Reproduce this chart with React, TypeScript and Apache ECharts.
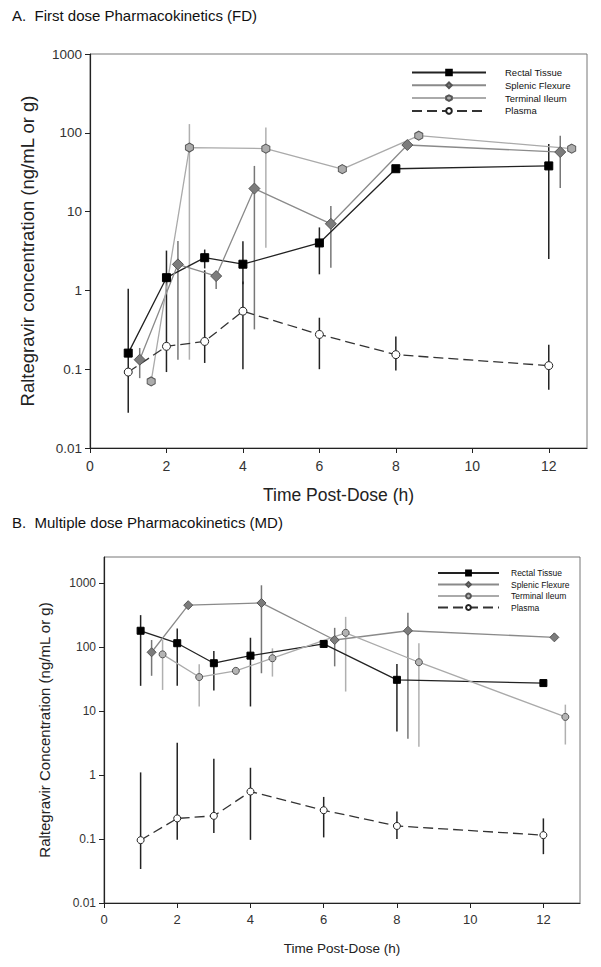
import React, { useEffect, useRef } from 'react';
import * as echarts from 'echarts';

// ---------- Panel A : First dose ----------
const A_RECTAL_X = [1, 2, 3, 4, 6, 8, 12];
const A_RECTAL_Y = [0.16, 1.45, 2.6, 2.15, 4.0, 35, 38];
const A_RECTAL_LO = [null, null, 1.9, 1.2, 1.6, null, 2.5];
const A_RECTAL_HI = [null, null, 3.3, 4.2, 6.3, null, 72];

const A_SPLENIC_X = [1.3, 2.3, 3.3, 4.3, 6.3, 8.3, 12.3];
const A_SPLENIC_Y = [0.132, 2.14, 1.52, 19.6, 7.0, 70, 57];
const A_SPLENIC_LO = [0.077, 0.132, 1.04, 0.32, 1.94, null, 20];
const A_SPLENIC_HI = [0.186, 4.24, 1.76, 38, 11.8, null, 92];

const A_ILEUM_X = [1.6, 2.6, 4.6, 6.6, 8.6, 12.6];
const A_ILEUM_Y = [0.07, 65, 63, 34.6, 92, 63];
const A_ILEUM_LO = [null, 0.132, 3.48, null, null, null];
const A_ILEUM_HI = [null, 129, 117, null, null, null];

const A_PLASMA_X = [1, 2, 3, 4, 6, 8, 12];
const A_PLASMA_Y = [0.092, 0.195, 0.225, 0.545, 0.276, 0.153, 0.111];
const A_PLASMA_LO = [0.028, 0.092, 0.12, 0.1, 0.1, 0.096, 0.055];
const A_PLASMA_HI = [1.05, 3.2, 1.8, 1.3, 0.45, 0.26, 0.205];

// ---------- Panel B : Multiple dose ----------
const B_RECTAL_X = [1, 2, 3, 4, 6, 8, 12];
const B_RECTAL_Y = [180, 115, 56, 73.5, 112, 30.8, 27.4];
const B_RECTAL_LO = [24.8, 24.8, 21, 11.8, 98, 4.8, null];
const B_RECTAL_HI = [316, 196, 87, 140, 128, 54.6, null];

const B_SPLENIC_X = [1.3, 2.3, 4.3, 6.3, 8.3, 12.3];
const B_SPLENIC_Y = [83, 452, 490, 129, 180, 142];
const B_SPLENIC_LO = [35.6, null, 39, 50, 3.7, null];
const B_SPLENIC_HI = [129, null, 925, 200, 343, null];

const B_ILEUM_X = [1.6, 2.6, 3.6, 4.6, 6.6, 8.6, 12.6];
const B_ILEUM_Y = [77, 34, 42.5, 67, 167, 58, 8.1];
const B_ILEUM_LO = [21.4, 11.8, null, 34.6, 20.2, 2.77, 3.0];
const B_ILEUM_HI = [129, 54, null, 95.6, 297, 115, 12.6];

const B_PLASMA_X = [1, 2, 3, 4, 6, 8, 12];
const B_PLASMA_Y = [0.096, 0.21, 0.23, 0.552, 0.282, 0.16, 0.115];
const B_PLASMA_LO = [0.034, 0.097, 0.124, 0.097, 0.106, 0.1, 0.058];
const B_PLASMA_HI = [1.1, 3.19, 1.8, 1.3, 0.455, 0.27, 0.21];

const SERIES_NAMES = ['Rectal Tissue', 'Splenic Flexure', 'Terminal Ileum', 'Plasma'];
const Y_TICKS = [0.01, 0.1, 1, 10, 100, 1000];
const X_TICKS = [0, 2, 4, 6, 8, 10, 12];

const FONT = "'Liberation Sans', Arial, sans-serif";
const HEX = 'path://M0,-10 L8.66,-5 L8.66,5 L0,10 L-8.66,5 L-8.66,-5 Z';

const pairs = (xs: number[], ys: number[]) => xs.map((x, i) => [x, ys[i]]);
const errs = (xs: number[], lo: (number | null)[], hi: (number | null)[]) =>
  xs
    .map((x, i) => (lo[i] != null && hi[i] != null ? [x, lo[i], hi[i]] : null))
    .filter((d) => d !== null);

function errSeries(name: string, idx: number, data: any[], color: string, width: number) {
  return {
    type: 'custom',
    name,
    xAxisIndex: idx,
    yAxisIndex: idx,
    z: 1,
    silent: true,
    encode: { x: 0, y: [1, 2] },
    data,
    renderItem: (params: any, api: any) => {
      const x = api.value(0);
      const p1 = api.coord([x, api.value(1)]);
      const p2 = api.coord([x, api.value(2)]);
      return {
        type: 'line',
        shape: { x1: p1[0], y1: p1[1], x2: p2[0], y2: p2[1] },
        style: { stroke: color, lineWidth: width },
      };
    },
  };
}

function lineSeries(
  name: string,
  idx: number,
  data: number[][],
  lineColor: string,
  lineWidth: number,
  dashed: any,
  symbol: string,
  size: any,
  fill: string,
  border: string
) {
  return {
    type: 'line',
    name,
    xAxisIndex: idx,
    yAxisIndex: idx,
    z: 3,
    data,
    symbol,
    symbolSize: size,
    showAllSymbol: true,
    lineStyle: { color: lineColor, width: lineWidth, type: dashed },
    itemStyle: { color: fill, borderColor: border, borderWidth: 1, opacity: 1 },
    emphasis: { disabled: true },
  };
}

function xAxis(idx: number, fontSize: number, nameSize: number, nameGap: number, margin: number) {
  return {
    type: 'value',
    gridIndex: idx,
    min: 0,
    max: 13,
    interval: 2,
    name: 'Time Post-Dose (h)',
    nameLocation: 'middle',
    nameGap,
    nameTextStyle: { fontSize: nameSize, color: '#222', fontFamily: FONT },
    axisLine: { lineStyle: { color: '#222', width: 1.2 } },
    axisTick: { inside: false, length: 5, lineStyle: { color: '#222' }, customValues: X_TICKS },
    axisLabel: { fontSize, color: '#333', fontFamily: FONT, margin, customValues: X_TICKS },
    splitLine: { show: false },
  };
}

function yAxis(idx: number, max: number, name: string, fontSize: number, nameSize: number, nameGap: number) {
  return {
    type: 'log',
    logBase: 10,
    gridIndex: idx,
    min: 0.01,
    max,
    name,
    nameLocation: 'middle',
    nameGap,
    nameRotate: 90,
    nameTextStyle: { fontSize: nameSize, color: '#222', fontFamily: FONT },
    axisLine: { lineStyle: { color: '#222', width: 1.2 } },
    axisTick: { inside: false, length: 5, lineStyle: { color: '#222' }, customValues: Y_TICKS },
    axisLabel: {
      fontSize,
      color: '#333',
      fontFamily: FONT,
      margin: 8,
      customValues: Y_TICKS,
      formatter: (v: number) => String(Number(Number(v).toPrecision(3))),
    },
    splitLine: { show: false },
    minorTick: { show: false },
  };
}

export default function App() {
  const ref = useRef<HTMLDivElement>(null);
  useEffect(() => {
    if (!ref.current) return;
    const chart = echarts.init(ref.current, undefined, { renderer: 'svg' });
    const bNames = SERIES_NAMES.map((n) => n + ' ');
    const option: any = {
      animation: false,
      backgroundColor: '#ffffff',
      textStyle: { fontFamily: FONT },
      title: [
        {
          text: 'A.  First dose Pharmacokinetics (FD)',
          left: 12,
          top: 8,
          padding: 0,
          textStyle: { fontSize: 15, fontWeight: 'normal', color: '#111', fontFamily: FONT },
        },
        {
          text: 'B.  Multiple dose Pharmacokinetics (MD)',
          left: 12,
          top: 515,
          padding: 0,
          textStyle: { fontSize: 15, fontWeight: 'normal', color: '#111', fontFamily: FONT },
        },
      ],
      grid: [
        { left: 90, top: 54, width: 497, height: 394, show: true, borderColor: '#777', borderWidth: 1, backgroundColor: 'transparent' },
        { left: 104, top: 557, width: 476, height: 346, show: true, borderColor: '#777', borderWidth: 1, backgroundColor: 'transparent' },
      ],
      legend: [
        {
          data: SERIES_NAMES,
          orient: 'vertical',
          left: 411,
          top: 67.5,
          padding: 0,
          itemWidth: 74,
          itemHeight: 7,
          itemGap: 2.8,
          selectedMode: false,
          textStyle: { fontSize: 9.5, color: '#111', fontFamily: FONT, padding: [0, 0, 0, 14] },
        },
        {
          data: bNames,
          orient: 'vertical',
          left: 437,
          top: 568.5,
          padding: 0,
          itemWidth: 61,
          itemHeight: 6,
          itemGap: 2.5,
          selectedMode: false,
          formatter: (n: string) => n.trim(),
          textStyle: { fontSize: 8.5, color: '#111', fontFamily: FONT, padding: [0, 0, 0, 7] },
        },
      ],
      xAxis: [xAxis(0, 14, 17.5, 38, 11), xAxis(1, 13, 13.5, 38, 10)],
      yAxis: [
        yAxis(0, 1000, 'Raltegravir concentration (ng/mL or g)', 13.5, 18.5, 53),
        yAxis(1, 2560, 'Raltegravir Concentration (ng/mL or g)', 12, 15, 52),
      ],
      series: [
        // Panel A error bars
        errSeries('errA0', 0, errs(A_RECTAL_X, A_RECTAL_LO, A_RECTAL_HI), '#222', 1.5),
        errSeries('errA1', 0, errs(A_SPLENIC_X, A_SPLENIC_LO, A_SPLENIC_HI), '#777', 1.5),
        errSeries('errA2', 0, errs(A_ILEUM_X, A_ILEUM_LO, A_ILEUM_HI), '#b0b0b0', 1.5),
        errSeries('errA3', 0, errs(A_PLASMA_X, A_PLASMA_LO, A_PLASMA_HI), '#222', 1.5),
        // Panel A lines
        lineSeries(SERIES_NAMES[0], 0, pairs(A_RECTAL_X, A_RECTAL_Y), '#222', 1.3, 'solid', 'rect', 8, '#000', '#000'),
        lineSeries(SERIES_NAMES[1], 0, pairs(A_SPLENIC_X, A_SPLENIC_Y), '#8a8a8a', 1.3, 'solid', 'diamond', 11, '#7c7c7c', '#555'),
        lineSeries(SERIES_NAMES[2], 0, pairs(A_ILEUM_X, A_ILEUM_Y), '#aaaaaa', 1.3, 'solid', HEX, [8, 9], '#acacac', '#555'),
        lineSeries(SERIES_NAMES[3], 0, pairs(A_PLASMA_X, A_PLASMA_Y), '#333', 1.3, [10, 5], 'circle', 8, '#ffffff', '#222'),
        // Panel B error bars
        errSeries('errB0', 1, errs(B_RECTAL_X, B_RECTAL_LO, B_RECTAL_HI), '#222', 1.5),
        errSeries('errB1', 1, errs(B_SPLENIC_X, B_SPLENIC_LO, B_SPLENIC_HI), '#777', 1.5),
        errSeries('errB2', 1, errs(B_ILEUM_X, B_ILEUM_LO, B_ILEUM_HI), '#b0b0b0', 1.5),
        errSeries('errB3', 1, errs(B_PLASMA_X, B_PLASMA_LO, B_PLASMA_HI), '#222', 1.5),
        // Panel B lines
        lineSeries(bNames[0], 1, pairs(B_RECTAL_X, B_RECTAL_Y), '#222', 1.3, 'solid', 'rect', 7, '#000', '#000'),
        lineSeries(bNames[1], 1, pairs(B_SPLENIC_X, B_SPLENIC_Y), '#8a8a8a', 1.3, 'solid', 'diamond', 9, '#7c7c7c', '#555'),
        lineSeries(bNames[2], 1, pairs(B_ILEUM_X, B_ILEUM_Y), '#aaaaaa', 1.3, 'solid', 'circle', 7, '#b4b4b4', '#555'),
        lineSeries(bNames[3], 1, pairs(B_PLASMA_X, B_PLASMA_Y), '#333', 1.3, [10, 5], 'circle', 7, '#ffffff', '#222'),
      ],
    };
    chart.setOption(option);
    return () => chart.dispose();
  }, []);
  return (
    <div
      ref={ref}
      style={{ position: 'fixed', left: 0, top: 0, width: 601, height: 967, background: '#fff' }}
    />
  );
}
